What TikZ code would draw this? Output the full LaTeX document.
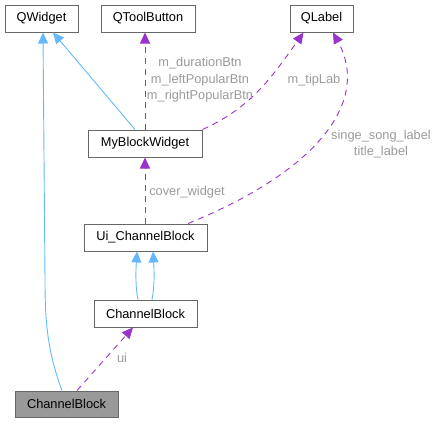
\documentclass[tikz,border=0pt]{standalone}
\usepackage{fontspec}
\setmainfont{Liberation Sans}
\usetikzlibrary{arrows.meta}
\definecolor{edgeblue}{HTML}{63B8FF}
\definecolor{edgepurple}{HTML}{9A32CD}
\definecolor{lblgray}{HTML}{9A9A9A}
\definecolor{boxborder}{HTML}{666666}
\definecolor{grayfill}{HTML}{999999}
\tikzset{
  cls/.style={draw=boxborder, line width=1pt, fill=white, inner sep=0pt, font=\fontsize{12.8}{14}\selectfont},
  inh/.style={draw=edgeblue, line width=0.9pt, -{Triangle[length=11pt,width=10pt]}},
  use/.style={draw=edgepurple, line width=0.9pt, dash pattern=on 6pt off 5pt, -{Triangle[length=11pt,width=10pt]}},
  lbl/.style={text=lblgray, font=\fontsize{12.8}{16.5}\selectfont, align=center, inner sep=0pt}
}
\begin{document}
\begin{tikzpicture}[x=1pt,y=-1pt]
\useasboundingbox (0,0) rectangle (437,423);
\node[cls, minimum width=73pt, minimum height=27pt] (qw) at (41.5,18.5) {QWidget};
\node[cls, minimum width=94pt, minimum height=27pt] (tb) at (148,18.5) {QToolButton};
\node[cls, minimum width=63pt, minimum height=27pt] (ql) at (321.5,18.5) {QLabel};
\node[cls, minimum width=114pt, minimum height=27pt] (mbw) at (145,143.5) {MyBlockWidget};
\node[cls, minimum width=123pt, minimum height=27pt] (ui) at (145.5,237.5) {Ui\_ChannelBlock};
\node[cls, minimum width=103pt, minimum height=27pt] (cb) at (145.5,313.5) {ChannelBlock};
\node[cls, fill=grayfill, minimum width=103pt, minimum height=26pt] (gray) at (66.5,404) {ChannelBlock};

% inheritance
\draw[inh] ([xshift=-4.5pt]gray.north) .. controls (47,350) and (45,320) .. (45,280) -- ([xshift=1.5pt]qw.south);
\draw[inh] ([xshift=-10pt]mbw.north) -- ([xshift=11.5pt]qw.south);
\draw[inh] ([xshift=-7.5pt]cb.north) .. controls (135,285) and (136,268) .. ([xshift=-8.5pt]ui.south);
\draw[inh] ([xshift=6.5pt]cb.north) .. controls (155,285) and (154,268) .. ([xshift=7.5pt]ui.south);

% usage
\draw[use] (mbw.north) -- ([xshift=-3pt]tb.south);
\draw[use] (mbw.north east) .. controls (250,108) and (270,80) .. ([xshift=-18pt]ql.south);
\draw[use] ([xshift=42.5pt]ui.north) .. controls (320,170) and (370,100) .. ([xshift=11.5pt]ql.south);
\draw[use] ([xshift=-0.5pt]ui.north) -- (mbw.south);
\draw[use] ([xshift=10.5pt]gray.north) -- ([xshift=-12.5pt]cb.south);

% labels
\node[lbl] (l1) at (200,80) {m\_durationBtn\\m\_leftPopularBtn\\m\_rightPopularBtn};
\node[lbl] (l2) at (314,80) {m\_tipLab};
\node[lbl] (l3) at (381,144) {singe\_song\_label\\title\_label};
\node[lbl] (l4) at (187,192) {cover\_widget};
\node[lbl] (l5) at (122,358) {ui};
\end{tikzpicture}
\end{document}
